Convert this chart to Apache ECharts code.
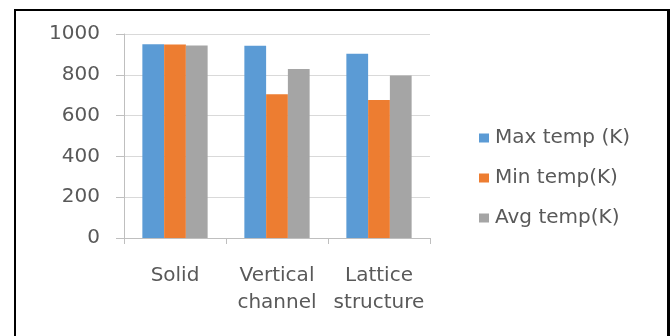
<!DOCTYPE html>
<html>
<head>
<meta charset="utf-8">
<script src="https://cdn.jsdelivr.net/npm/echarts@6/dist/echarts.min.js"></script>
<style>
  html, body { margin: 0; padding: 0; background: #ffffff; }
  #wrap { position: relative; width: 670px; height: 336px; overflow: hidden; }
  #frame { position: absolute; left: 14px; top: 9px; width: 651px; height: 340px;
           border-left: 2px solid #000; border-top: 2px solid #000; border-right: 3px solid #000; }
  #chart { position: absolute; left: 0; top: 0; width: 670px; height: 336px; }
</style>
</head>
<body>
<div id="wrap">
  <div id="frame"></div>
  <div id="chart"></div>
</div>
<script>
// Cooling designs and their temperatures (K)
const categories = ['Solid', 'Vertical\nchannel', 'Lattice\nstructure'];
const maxTemp = [950, 943, 903];
const minTemp = [948, 705, 677];
const avgTemp = [944, 828, 796];
const seriesNames = ['Max temp (K)', 'Min temp(K)', 'Avg temp(K)'];
const yTicks = { min: 0, max: 1000, interval: 200 };

const FONT = '"DejaVu Sans", sans-serif';
const TEXT = '#595959';
const colors = ['#5B9BD5', '#ED7D31', '#A5A5A5'];

const chart = echarts.init(document.getElementById('chart'), null, { renderer: 'canvas' });

const makeBar = (name, data, color) => ({
  name: name,
  type: 'bar',
  data: data,
  barGap: '0%',
  barCategoryGap: '36%',
  itemStyle: { color: color },
  emphasis: { disabled: true }
});

chart.setOption({
  animation: false,
  backgroundColor: 'transparent',
  textStyle: { fontFamily: FONT },
  grid: { left: 124, right: 240, top: 34, bottom: 98, containLabel: false },
  legend: {
    orient: 'vertical',
    left: 474,
    top: 123,
    itemWidth: 10,
    itemHeight: 9,
    itemGap: 20,
    icon: 'rect',
    textStyle: { fontFamily: FONT, fontSize: 20, color: TEXT, padding: [0, 0, 0, 1] },
    data: seriesNames
  },
  xAxis: {
    type: 'category',
    data: categories,
    axisLine: { lineStyle: { color: '#bfbfbf', width: 1 } },
    axisTick: { show: true, length: 6, lineStyle: { color: '#bfbfbf' } },
    axisLabel: { fontFamily: FONT, fontSize: 20, color: TEXT, lineHeight: 27, margin: 24,
                 interval: 0, hideOverlap: false }
  },
  yAxis: {
    type: 'value',
    min: yTicks.min,
    max: yTicks.max,
    interval: yTicks.interval,
    axisLine: { show: true, lineStyle: { color: '#bfbfbf', width: 1 } },
    axisTick: { show: true, length: 8, lineStyle: { color: '#bfbfbf' } },
    splitLine: { show: true, lineStyle: { color: '#d9d9d9', width: 1 } },
    axisLabel: { fontFamily: FONT, fontSize: 20, color: TEXT, margin: 24,
                 formatter: (v) => String(v) }
  },
  series: [
    makeBar(seriesNames[0], maxTemp, colors[0]),
    makeBar(seriesNames[1], minTemp, colors[1]),
    makeBar(seriesNames[2], avgTemp, colors[2])
  ]
});
</script>
</body>
</html>
